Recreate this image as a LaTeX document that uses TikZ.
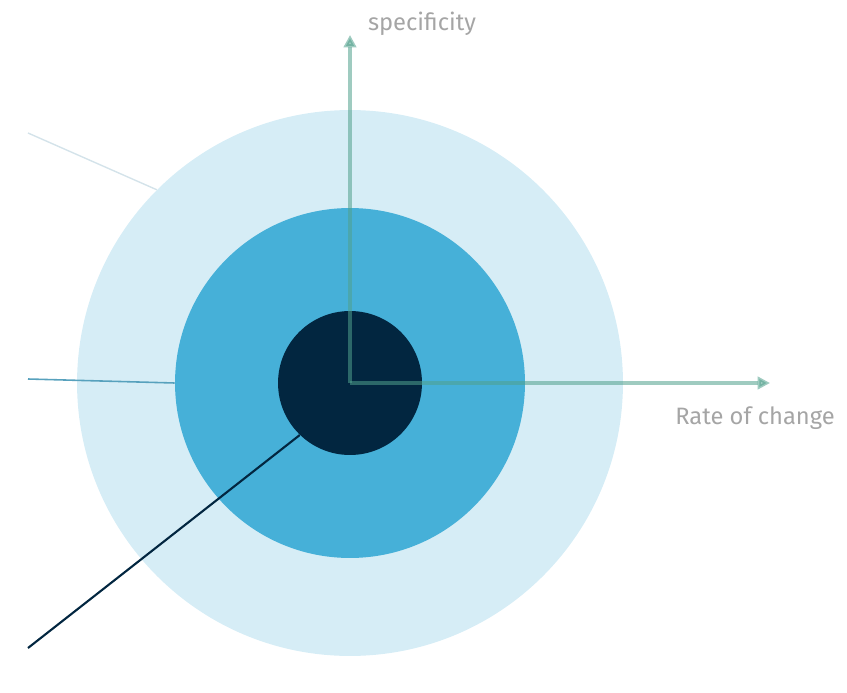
\documentclass[tikz,border=0pt]{standalone}
\usepackage{fontspec}
\setmainfont{Fira Sans}
\usetikzlibrary{arrows.meta}
\definecolor{ringpale}{RGB}{214,237,246}
\definecolor{ringmid}{RGB}{70,176,216}
\definecolor{ringcore}{RGB}{2,38,64}
\definecolor{axisgreen}{RGB}{80,160,140}
\definecolor{labelgray}{RGB}{165,165,165}
\begin{document}
\begin{tikzpicture}[x=0.02cm,y=-0.02cm,every node/.style={circle,inner sep=0pt}]
\useasboundingbox (0,0) rectangle (847,692);
\node[fill=ringpale,minimum size=10.92cm] (outer) at (350,383) {};
\node[fill=ringmid,minimum size=7cm] (mid) at (350,383) {};
\node[fill=ringcore,minimum size=2.88cm] (core) at (350,383) {};
\coordinate (ytip) at (350,35);
\coordinate (xtip) at (770,383);
\coordinate (p1) at (28,133);
\coordinate (p2) at (28,379);
\coordinate (p3) at (28,648);
\draw[axisgreen,draw opacity=0.55,fill opacity=0.55,line width=2pt,-{Triangle[length=7pt,width=7pt]}] (core.center)--(ytip);
\draw[axisgreen,draw opacity=0.55,fill opacity=0.55,line width=2pt,-{Triangle[length=7pt,width=7pt]}] (core.center)--(xtip);
\draw[ringpale!85!gray!80,line width=0.8pt] (p1)--(outer.135);
\draw[ringmid!70!gray,line width=0.9pt] (p2)--(mid.180);
\draw[ringcore,line width=1.2pt] (p3)--(core.226);
\node[rectangle,text=labelgray,font=\fontsize{13.5}{15}\selectfont] (ylab) at (422,24) {specificity};
\node[rectangle,text=labelgray,font=\fontsize{13.5}{15}\selectfont] (xlab) at (755,418) {Rate of change};
\end{tikzpicture}
\end{document}
